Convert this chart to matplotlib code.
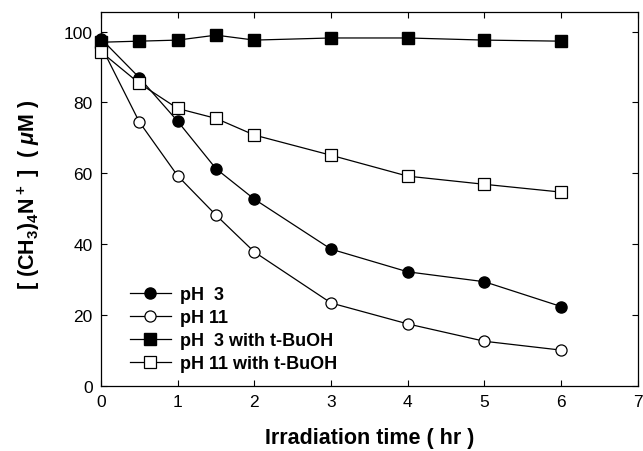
import matplotlib
matplotlib.use("Agg")
import matplotlib.pyplot as plt

plt.rcParams['font.family'] = ['Liberation Sans', 'DejaVu Sans']
plt.rcParams['mathtext.fontset'] = 'custom'
plt.rcParams['mathtext.rm'] = 'Liberation Sans:bold'
plt.rcParams['mathtext.it'] = 'Liberation Sans:italic:bold'
plt.rcParams['mathtext.bf'] = 'Liberation Sans:bold'

time = [0, 0.5, 1, 1.5, 2, 3, 4, 5, 6]
ph3 = [98, 87, 74.7, 61.3, 52.7, 38.6, 32.2, 29.4, 22.4]
ph11 = [96, 74.5, 59.3, 48.2, 37.8, 23.4, 17.5, 12.6, 10.1]
ph3_tbuoh = [97, 97.3, 97.6, 99, 97.6, 98.2, 98.2, 97.6, 97.3]
ph11_tbuoh = [94.3, 85.4, 78.3, 75.5, 70.8, 65.1, 59.2, 56.9, 54.7]
labels = ['pH  3', 'pH 11', 'pH  3 with t-BuOH', 'pH 11 with t-BuOH']
xticks = [0, 1, 2, 3, 4, 5, 6, 7]
yticks = [0, 20, 40, 60, 80, 100]

fig = plt.figure(figsize=(6.43, 4.52), dpi=100)
ax = fig.add_axes([0.157, 0.144, 0.835, 0.827])

lw = 0.9
ms = 8
ax.plot(time, ph11, color='black', lw=lw, marker='o', ms=ms, mfc='white', mec='black', mew=0.9, label=labels[1], zorder=3, clip_on=False)
ax.plot(time, ph3_tbuoh, color='black', lw=lw, marker='s', ms=ms, mfc='black', mec='black', label=labels[2], zorder=3, clip_on=False)
ax.plot(time, ph3, color='black', lw=lw, marker='o', ms=ms, mfc='black', mec='black', label=labels[0], zorder=3, clip_on=False)
ax.plot(time, ph11_tbuoh, color='black', lw=lw, marker='s', ms=ms, mfc='white', mec='black', mew=0.9, label=labels[3], zorder=3, clip_on=False)

ax.set_xlim(0, 7)
ax.set_ylim(0, 105.5)
ax.set_xticks(xticks)
ax.set_yticks(yticks)
ax.tick_params(direction='in', top=True, right=True, labelsize=12.5, length=4, width=0.8, pad=6)
for s in ax.spines.values():
    s.set_linewidth(0.9)

ax.set_xlabel('Irradiation time ( hr )', fontsize=15.5, fontweight='bold', labelpad=13)
ax.set_ylabel(r'[ (CH$_3$)$_4$N$^+$ ]  ( $\mu$M )', fontsize=15.5, fontweight='bold')
ax.yaxis.set_label_coords(-0.11, 0.515)

handles, labs = ax.get_legend_handles_labels()
hmap = dict(zip(labs, handles))
leg = ax.legend([hmap[l] for l in labels], labels, loc='lower left', bbox_to_anchor=(0.03, 0.003), frameon=False,
                prop={'weight': 'bold', 'size': 13}, handlelength=2.3,
                labelspacing=0.33, handletextpad=0.5, borderpad=0.2)

fig.savefig('out.png', dpi=100)
